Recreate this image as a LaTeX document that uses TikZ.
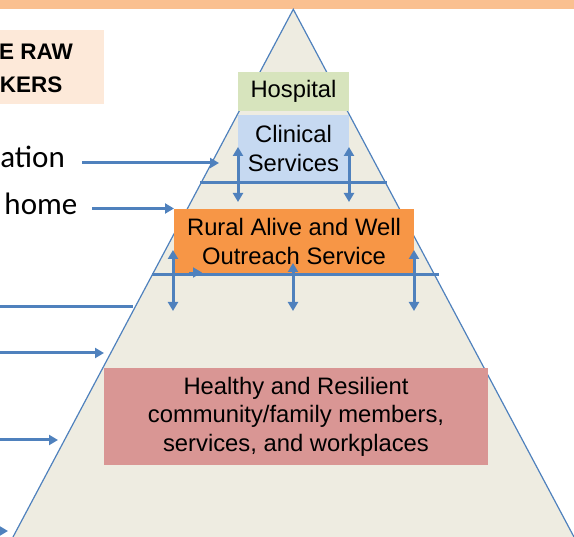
\documentclass[tikz,border=0pt]{standalone}
\usepackage{fontspec}
\setmainfont{Liberation Sans}
\newfontfamily\calib{Carlito}
\usetikzlibrary{arrows.meta}
\definecolor{barorange}{HTML}{FAC090}
\definecolor{tan}{HTML}{EEECE1}
\definecolor{edgeblue}{HTML}{4F81BD}
\definecolor{hospgreen}{HTML}{D7E4BD}
\definecolor{clinblue}{HTML}{C6D9F1}
\definecolor{ruralorange}{HTML}{F79646}
\definecolor{healthrose}{HTML}{D99694}
\definecolor{titlepeach}{HTML}{FDE9D9}
\tikzset{
  level/.style={draw=none, inner sep=0pt, align=center,
    font=\fontsize{23.8}{28.5}\selectfont},
  sidetext/.style={inner sep=0pt, font=\calib\fontsize{31}{36}\selectfont},
  flow/.style={draw=edgeblue, line width=3pt,
    -{Triangle[length=9pt,width=10pt]}},
  twoway/.style={draw=edgeblue, line width=3pt,
    {Triangle[length=9pt,width=10pt]}-{Triangle[length=9pt,width=10pt]}},
  tier/.style={draw=edgeblue, line width=3pt},
}
\begin{document}
\begin{tikzpicture}[x=1pt,y=-1pt]
\useasboundingbox (0,0) rectangle (574,537);
\clip (0,0) rectangle (574,537);

% header band
\fill[barorange] (0,0) rectangle (574,9.5);

% pyramid
\coordinate (apex) at (293.3,9.3);
\coordinate (baseL) at (13,537);
\coordinate (baseR) at (574,537);
\filldraw[fill=tan, draw=edgeblue, line width=1.2pt] (baseL) -- (apex) -- (baseR);

% title box
\fill[titlepeach] (0,30) rectangle (104,104);
\node[anchor=base east, inner sep=0pt, font=\bfseries\fontsize{22.5}{26}\selectfont] (title1) at (73,60) {E RAW};
\node[anchor=base east, inner sep=0pt, font=\bfseries\fontsize{22.5}{26}\selectfont] (title2) at (62.5,92.5) {KERS};

% levels of the pyramid
\node[level, fill=hospgreen, minimum width=111pt, minimum height=39pt] (hosp) at (293.5,91.5) {Hospital};
\node[level, fill=clinblue, minimum width=111pt, minimum height=67pt] (clin) at (293.5,148.5) {Clinical\\Services};
\node[level, fill=ruralorange, minimum width=240pt, minimum height=65pt] (rural) at (294,241.5) {Rural Alive and Well\\Outreach Service};
\node[level, fill=healthrose, minimum width=384pt, minimum height=97pt] (health) at (296,416.5) {Healthy and Resilient\\community/family members,\\services, and workplaces};

% tier lines
\coordinate (t1a) at (200,183);
\coordinate (t1b) at (387,183);
\draw[tier] (t1a) -- (t1b);
\coordinate (t2a) at (152,275);
\coordinate (t2b) at (439,275);
\draw[tier] (t2a) -- (t2b);

% links between tiers
\coordinate (c1a) at (238,147);  \coordinate (c1b) at (238,202);
\coordinate (c2a) at (349,147);  \coordinate (c2b) at (349,202);
\draw[twoway] (c1a) -- (c1b);
\draw[twoway] (c2a) -- (c2b);
\coordinate (r1a) at (173,250);  \coordinate (r1b) at (173,311);
\coordinate (r2a) at (293,263);  \coordinate (r2b) at (293,311);
\coordinate (r3a) at (414,250);  \coordinate (r3b) at (414,311);
\draw[twoway] (r1a) -- (r1b);
\draw[twoway] (r2a) -- (r2b);
\draw[twoway] (r3a) -- (r3b);
\coordinate (sa) at (189,272.5);
\coordinate (sb) at (202,272.5);
\draw[flow, line width=1.8pt] (sa) -- (sb);

% side labels
\node[sidetext, anchor=base east] (lab1) at (65,167.5) {ation};
\node[sidetext, anchor=base east] (lab2) at (77.5,215) {home};
\node[sidetext, anchor=base east] (lab3) at (2.6,261) {:};

% side pointers
\coordinate (p1a) at (82,163);   \coordinate (p1b) at (219,163);
\coordinate (p2a) at (92,208.5); \coordinate (p2b) at (174,208.5);
\coordinate (p3a) at (-5,306.5); \coordinate (p3b) at (133,306.5);
\coordinate (p4a) at (-5,353);   \coordinate (p4b) at (104,353);
\coordinate (p5a) at (-5,440);   \coordinate (p5b) at (58,440);
\coordinate (p6a) at (-5,531);   \coordinate (p6b) at (8,531);
\draw[flow] (p1a) -- (p1b);
\draw[flow] (p2a) -- (p2b);
\draw[tier] (p3a) -- (p3b);
\draw[flow] (p4a) -- (p4b);
\draw[flow] (p5a) -- (p5b);
\draw[flow] (p6a) -- (p6b);
\end{tikzpicture}
\end{document}
